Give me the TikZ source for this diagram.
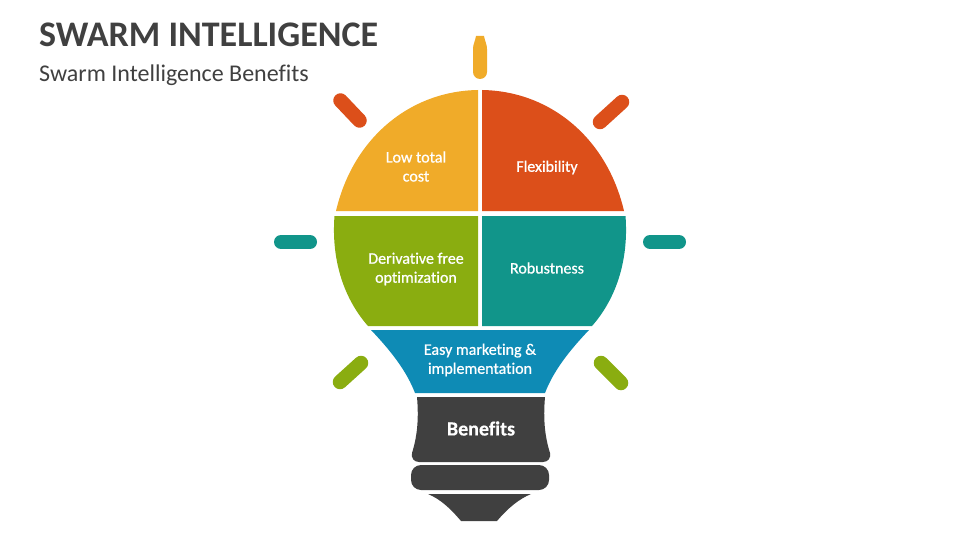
\documentclass[tikz,border=0pt]{standalone}
\usepackage{fontspec}
\setmainfont[Ligatures=NoCommon]{Carlito}
\newfontfamily\labelfont[Ligatures=NoCommon,FakeBold=0.8]{Carlito}
\newfontfamily\basefont[Ligatures=NoCommon,FakeBold=0.5]{Carlito Bold}
\definecolor{bulbyellow}{HTML}{F0AB29}
\definecolor{bulborange}{HTML}{DC4F1A}
\definecolor{bulbteal}{HTML}{11958A}
\definecolor{bulbgreen}{HTML}{8AAD10}
\definecolor{bulbblue}{HTML}{0E8BB5}
\definecolor{bulbdark}{HTML}{404040}
\tikzset{
	ray/.style={line width=14.5pt,line cap=round},
	label/.style={text=white,align=center,font=\fontsize{16}{19}\labelfont,inner sep=0pt},
	heading/.style={anchor=base west,inner sep=0pt,text=bulbdark}
}
\begin{document}
\begin{tikzpicture}[x=1pt,y=-1pt]
	\useasboundingbox (0,0) rectangle (960,540);
	\node[heading,font=\fontsize{36}{40}\selectfont\bfseries] (title) at (39,46.5) {SWARM INTELLIGENCE};
	\node[heading,font=\fontsize{24}{28}\selectfont] (subtitle) at (39,82) {Swarm Intelligence Benefits};
	% rays
	\fill[bulbyellow] (473,72) -- (473,49) .. controls (473,44) and (475,42) .. (476,36) -- (484,36) .. controls (485,42) and (487,44) .. (487,49) -- (487,72) arc[start angle=0,end angle=180,radius=7] -- cycle;
	\draw[ray,bulborange] (340.5,100.5) -- (359.5,120.5);
	\draw[ray,bulborange] (622,102) -- (600,122);
	\draw[ray,bulbteal,line width=14pt] (281,242) -- (310,242);
	\draw[ray,bulbteal,line width=14pt] (650,242) -- (679,242);
	\draw[ray,bulbgreen] (340,382) -- (361,363);
	\draw[ray,bulbgreen] (601,363) -- (621,383);
	% bulb
	\fill[bulbyellow] (478,211) -- (478,90) .. controls (410,91) and (353,138) .. (336,211) -- cycle;
	\fill[bulborange] (482,211) -- (482,90) .. controls (550,91) and (607,138) .. (624,211) -- cycle;
	\fill[bulbgreen] (478,216) -- (478,326) -- (368,326) .. controls (345,300) and (331,262) .. (334.5,216) -- cycle;
	\fill[bulbteal] (482,216) -- (482,326) -- (592,326) .. controls (615,300) and (629,262) .. (625.5,216) -- cycle;
	\fill[bulbblue] (371,330) -- (589,330) .. controls (568,352) and (553,372) .. (545,393) -- (415,393) .. controls (407,372) and (392,352) .. (371,330) -- cycle;
	% base
	\fill[bulbdark] (417,397) -- (545,397) .. controls (543,420) and (545,437) .. (550,453) .. controls (551,458) and (548,462) .. (543,462) -- (419,462) .. controls (414,462) and (411,458) .. (412,453) .. controls (417,437) and (419,420) .. (417,397) -- cycle;
	\fill[bulbdark,rounded corners=10pt] (411,465) rectangle (549,490);
	\fill[bulbdark] (428,494) -- (531,494) .. controls (519,499) and (508,508) .. (497,521) -- (461,521) .. controls (450,508) and (440,499) .. (428,494) -- cycle;
	% labels
	\node[label] (lowcost) at (416,166.5) {Low total\\cost};
	\node[label] (flex) at (547,167.5) {Flexibility};
	\node[label] (deriv) at (416,269) {Derivative free\\optimization};
	\node[label] (robust) at (547,268) {Robustness};
	\node[label] (easy) at (480,360) {Easy marketing \&\\implementation};
	\node[label,font=\fontsize{20}{24}\basefont] (benefits) at (481,428.5) {Benefits};
\end{tikzpicture}
\end{document}
